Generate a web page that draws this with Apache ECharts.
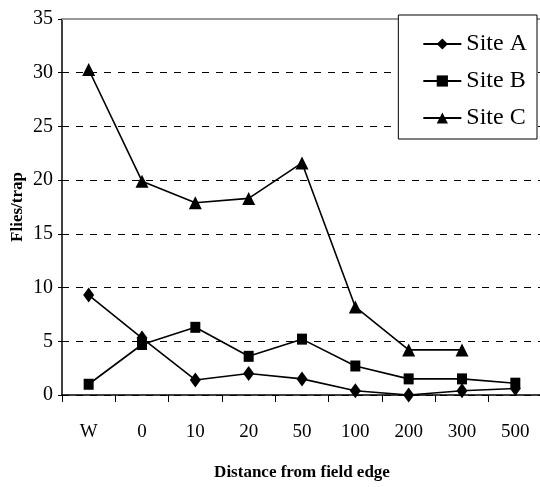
<!DOCTYPE html>
<html>
<head>
<meta charset="utf-8">
<script src="https://cdn.jsdelivr.net/npm/echarts@6/dist/echarts.min.js"></script>
<style>
  html, body { margin: 0; padding: 0; background: #fff; }
  #chart { width: 540px; height: 487px; }
</style>
</head>
<body>
<div id="chart"></div>
<script>
// Trap catches by distance from the field edge
const distances = ['W', '0', '10', '20', '50', '100', '200', '300', '500'];
const siteA = [9.3, 5.3, 1.4, 2.0, 1.5, 0.4, 0.0, 0.4, 0.6];
const siteB = [1.0, 4.7, 6.3, 3.6, 5.2, 2.7, 1.5, 1.5, 1.1];
const siteC = [30.3, 19.9, 17.9, 18.3, 21.6, 8.2, 4.2, 4.2, null];
const yTicks = { min: 0, max: 35, step: 5 };

const serif = '"Liberation Serif", "Times New Roman", serif';

function lineSeries(name, data, symbol, size) {
  return {
    name: name,
    type: 'line',
    data: data,
    symbol: symbol,
    symbolSize: size,
    showAllSymbol: true,
    connectNulls: false,
    lineStyle: { color: '#000', width: 1.6 },
    itemStyle: { color: '#000' },
    emphasis: { disabled: true }
  };
}

const chart = echarts.init(document.getElementById('chart'), null, { renderer: 'canvas' });
chart.setOption({
  animation: false,
  backgroundColor: '#fff',
  textStyle: { fontFamily: serif },
  grid: { left: 62, top: 19, width: 480, bottom: 92, containLabel: false, outerBoundsMode: 'none' },
  legend: {
    orient: 'vertical',
    right: 3,
    top: 15,
    padding: [17, 10, 9, 24],
    backgroundColor: '#fff',
    borderColor: '#000',
    borderWidth: 1,
    itemWidth: 38,
    itemHeight: 14,
    itemGap: 13,
    textStyle: { fontFamily: serif, fontSize: 24, color: '#000', lineHeight: 24 },
    data: ['Site A', 'Site B', 'Site C']
  },
  xAxis: [{
    type: 'category',
    data: distances,
    boundaryGap: true,
    name: 'Distance from field edge',
    nameLocation: 'middle',
    nameGap: 69,
    nameMoveOverlap: false,
    nameTextStyle: { fontFamily: serif, fontWeight: 'bold', fontSize: 17, color: '#000' },
    axisLine: { lineStyle: { color: '#000', width: 1.5 } },
    axisTick: { show: true, length: 7, lineStyle: { color: '#000', width: 1 } },
    axisLabel: { margin: 28, fontFamily: serif, fontSize: 19, color: '#000' }
  }, {
    type: 'category',
    data: distances,
    position: 'top',
    axisLine: { show: true, lineStyle: { color: '#999', width: 2 } },
    axisTick: { show: false },
    axisLabel: { show: false }
  }],
  yAxis: {
    type: 'value',
    min: yTicks.min,
    max: yTicks.max,
    interval: yTicks.step,
    name: 'Flies/trap',
    nameLocation: 'middle',
    nameGap: 36,
    nameMoveOverlap: false,
    nameTextStyle: { fontFamily: serif, fontWeight: 'bold', fontSize: 17, color: '#000' },
    axisLine: { show: true, lineStyle: { color: '#000', width: 1.5 } },
    axisTick: { show: true, length: 4, lineStyle: { color: '#000' } },
    axisLabel: { margin: 9, fontFamily: serif, fontSize: 20, color: '#000' },
    splitLine: { show: true, lineStyle: { color: '#000', type: [7, 7], width: 1 } }
  },
  series: [
    lineSeries('Site A', siteA, 'diamond', [11, 15]),
    lineSeries('Site B', siteB, 'rect', [10, 11]),
    lineSeries('Site C', siteC, 'triangle', [13, 13])
  ]
});
</script>
</body>
</html>
